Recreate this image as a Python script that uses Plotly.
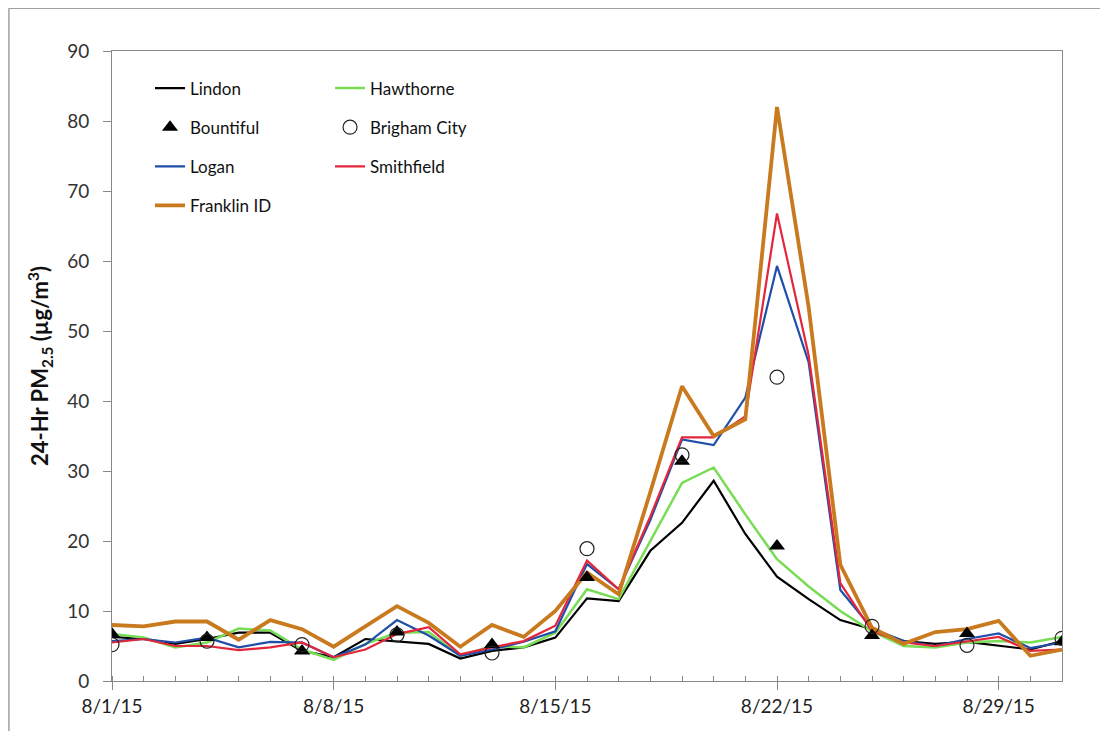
import plotly.graph_objects as go
import pandas as pd

dates = pd.date_range("2015-08-01", "2015-08-31", freq="D")

lindon = [6.3, 6.0, 5.3, 6.0, 6.9, 6.9, 4.3, 3.4, 6.0, 5.7, 5.3, 3.2, 4.3, 4.8, 6.2,
          11.8, 11.4, 18.6, 22.6, 28.6, 21.0, 14.9, 11.7, 8.7, 7.4, 5.7, 5.3, 5.6, 5.1, 4.5, 5.7]
hawthorne = [6.7, 6.2, 4.8, 5.5, 7.5, 7.2, 4.5, 3.0, 5.3, 6.9, 7.0, 3.6, 5.0, 4.8, 6.9,
             13.1, 11.7, 20.0, 28.3, 30.5, 23.8, 17.4, 13.5, 10.0, 7.1, 5.0, 4.8, 5.5, 5.7, 5.5, 6.3]
logan = [5.7, 6.0, 5.5, 6.2, 4.8, 5.6, 5.5, 3.4, 5.2, 8.7, 6.5, 3.6, 4.5, 5.6, 7.1,
         16.7, 13.1, 23.0, 34.5, 33.7, 40.5, 59.3, 45.5, 13.0, 7.5, 5.7, 5.0, 6.0, 6.8, 4.7, 5.5]
smithfield = [5.5, 6.0, 5.0, 5.0, 4.4, 4.8, 5.5, 3.4, 4.5, 6.7, 7.7, 3.8, 4.8, 5.7, 7.9,
              17.2, 13.1, 23.5, 34.8, 34.8, 37.8, 66.8, 46.5, 14.0, 7.1, 5.5, 5.0, 5.7, 6.3, 4.3, 4.5]
franklin = [8.0, 7.8, 8.5, 8.5, 5.9, 8.7, 7.4, 4.9, 7.8, 10.7, 8.3, 4.9, 8.0, 6.3, 10.0,
            15.5, 12.4, 27.0, 42.1, 35.0, 37.4, 82.0, 53.4, 16.6, 7.6, 5.3, 7.0, 7.4, 8.6, 3.6, 4.5]

sample_dates = ["2015-08-01", "2015-08-04", "2015-08-07", "2015-08-10", "2015-08-13", "2015-08-16",
                "2015-08-19", "2015-08-22", "2015-08-25", "2015-08-28", "2015-08-31"]
bountiful = [6.7, 6.2, 4.3, 7.0, 5.2, 14.8, 31.4, 19.3, 6.5, 6.8, 5.6]
brigham = [5.2, 5.7, 5.2, 6.6, 4.0, 18.9, 32.3, 43.4, 7.8, 5.1, 6.1]

tick_dates = ["2015-08-01", "2015-08-08", "2015-08-15", "2015-08-22", "2015-08-29"]
tick_text = ["8/1/15", "8/8/15", "8/15/15", "8/22/15", "8/29/15"]
y_ticks = [0, 10, 20, 30, 40, 50, 60, 70, 80, 90]

FONT = "Lato"

fig = go.Figure()

def line_trace(name, y, color, width, legend, rank):
    return go.Scatter(x=dates, y=y, name=name, mode="lines",
                      line=dict(color=color, width=width),
                      legend=legend, legendgroup=name, legendrank=rank)

fig.add_trace(line_trace("Lindon", lindon, "#000000", 2.2, "legend", 1))
fig.add_trace(line_trace("Hawthorne", hawthorne, "#78DC55", 2.5, "legend2", 1))
fig.add_trace(line_trace("Logan", logan, "#1F4FA8", 2.2, "legend", 3))
fig.add_trace(line_trace("Smithfield", smithfield, "#E3263B", 2.2, "legend2", 3))
fig.add_trace(line_trace("Franklin ID", franklin, "#C97A1F", 3.8, "legend", 4))
fig.add_trace(go.Scatter(x=sample_dates, y=bountiful, name="Bountiful", mode="markers",
                         marker=dict(symbol="triangle-up", size=14, color="#000000"),
                         legend="legend", legendgroup="Bountiful", legendrank=2))
fig.add_trace(go.Scatter(x=sample_dates, y=brigham, name="Brigham City", mode="markers",
                         marker=dict(symbol="circle-open", size=14, color="#222222",
                                     line=dict(width=1.2)),
                         legend="legend2", legendgroup="Brigham City", legendrank=2))

legend_common = dict(font=dict(family=FONT, size=17, color="#111111"),
                     bgcolor="rgba(0,0,0,0)", tracegroupgap=14,
                     xanchor="left", yanchor="top", traceorder="grouped")

fig.update_layout(
    width=1108, height=731,
    paper_bgcolor="white", plot_bgcolor="white",
    margin=dict(l=104, r=54, t=43, b=58),
    showlegend=True,
    legend=dict(x=0.040, y=0.969, **legend_common),
    legend2=dict(x=0.2295, y=0.969, **legend_common),
    xaxis=dict(
        type="date",
        range=["2015-08-01", "2015-08-31"],
        tickvals=tick_dates, ticktext=tick_text,
        ticks="outside", ticklen=8, tickcolor="#888888", tickwidth=1,
        minor=dict(dtick=86400000, ticks="inside", ticklen=5, tickcolor="#888888", showgrid=False),
        showline=True, linecolor="#888888", linewidth=1, mirror=True,
        showgrid=False, zeroline=False,
        tickfont=dict(family=FONT, size=19, color="#222222"),
        ticklabelstandoff=0,
    ),
    yaxis=dict(
        range=[0, 90], tickvals=y_ticks,
        ticks="outside", ticklen=8, tickcolor="#888888",
        showline=True, linecolor="#888888", linewidth=1, mirror=True,
        showgrid=False, zeroline=False,
        tickfont=dict(family=FONT, size=19, color="#333333"),
        ticklabelstandoff=10,
        title=dict(text="<b>24-Hr PM<sub>2.5</sub> (µg/m<sup>3</sup>)</b>",
                   font=dict(family=FONT, size=22, color="#111111"), standoff=12),
    ),
    shapes=[
        dict(type="line", xref="paper", yref="paper", x0=-0.1085, x1=-0.1085, y0=1.068, y1=-0.1,
             line=dict(color="#A0A0A0", width=1.5)),
        dict(type="line", xref="paper", yref="paper", x0=-0.1085, x1=1.06, y0=1.068, y1=1.068,
             line=dict(color="#A0A0A0", width=1.5)),
    ],
)

fig.write_html("out.html")
